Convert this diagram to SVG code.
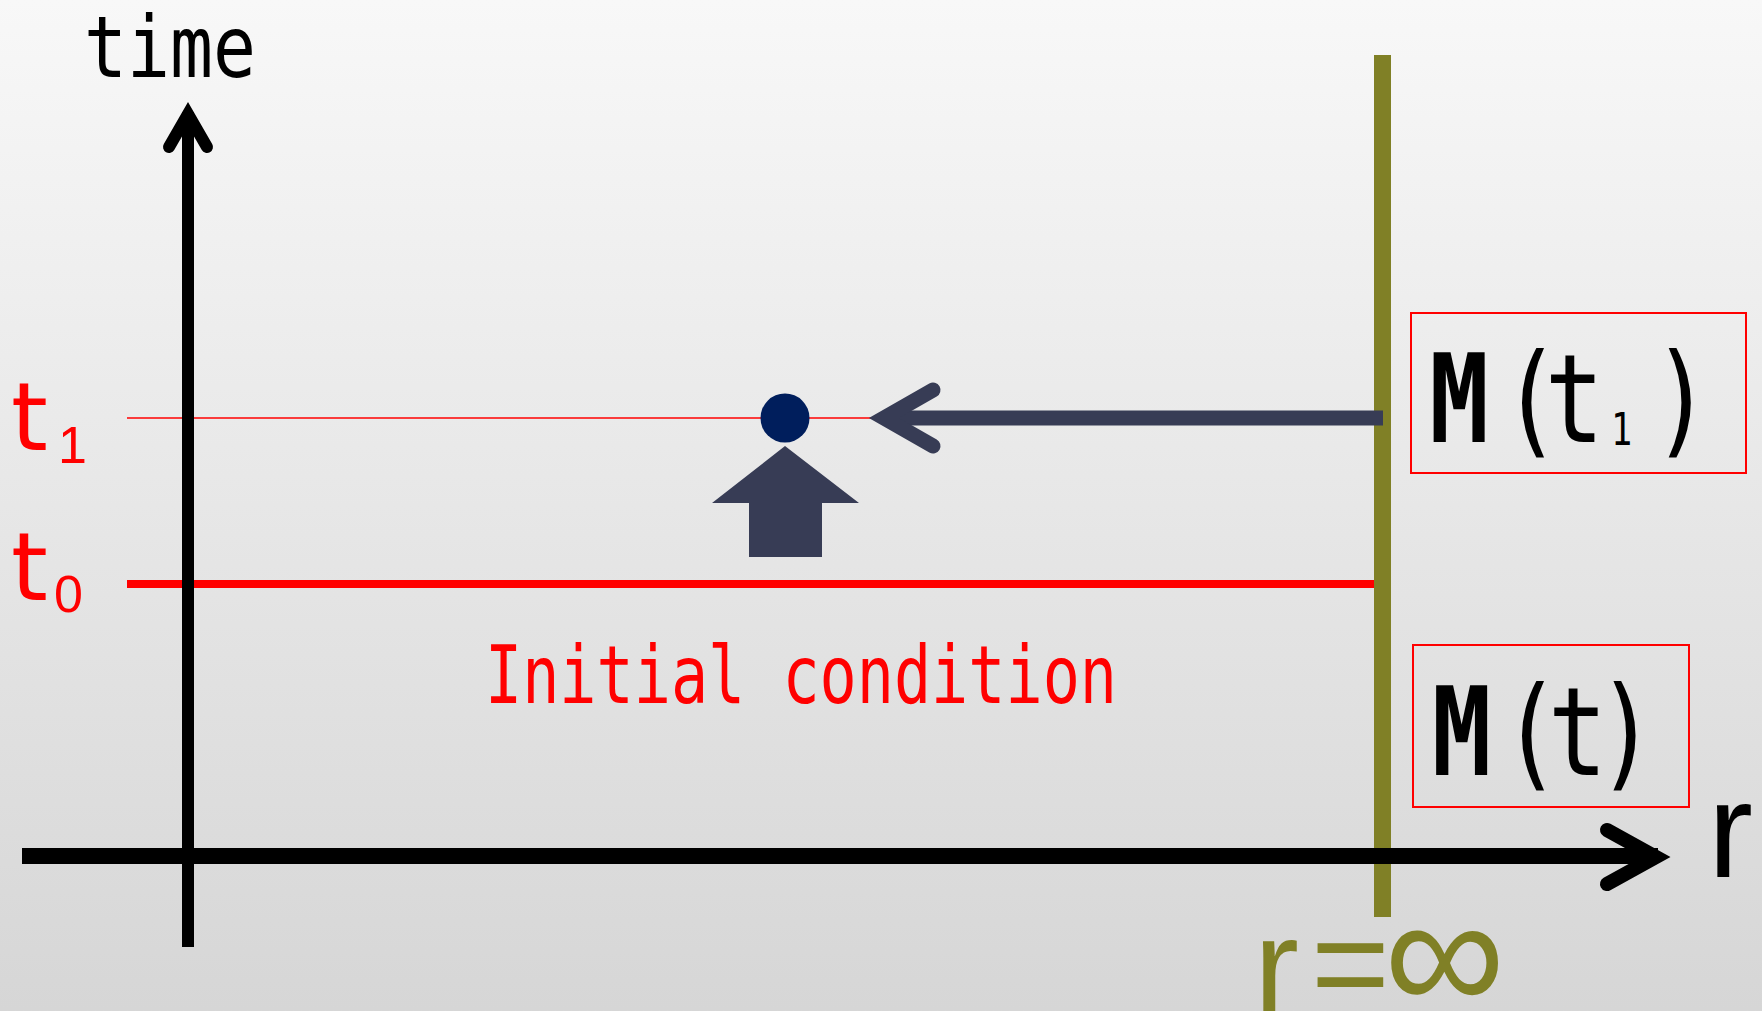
<svg xmlns="http://www.w3.org/2000/svg" width="1762" height="1011" viewBox="0 0 1762 1011">
<defs>
<linearGradient id="bg" x1="0" y1="0" x2="0" y2="1">
<stop offset="0" stop-color="#F8F8F8"/>
<stop offset="1" stop-color="#D6D6D6"/>
</linearGradient>
</defs>
<style>
.mono{font-family:"DejaVu Sans Mono","Liberation Mono",monospace}
.red{fill:#FF0000}
.blk{fill:#000000}
.olive{fill:#808026}
.box{fill:none;stroke:#FF0000;stroke-width:2}
.head{fill:none;stroke-linecap:round;stroke-linejoin:miter;stroke-miterlimit:10}
</style>
<rect x="0" y="0" width="1762" height="1011" fill="url(#bg)"/>

<g id="time-lines">
<line x1="127" y1="418" x2="872" y2="418" stroke="#FF0000" stroke-width="1.6"/>
<line x1="127" y1="584" x2="1374" y2="584" stroke="#FF0000" stroke-width="8"/>
</g>

<g id="r-infinity-line">
<rect x="1374" y="55" width="17" height="862" fill="#808026"/>
</g>

<g id="axes">
<line x1="188" y1="947" x2="188" y2="112" stroke="#000" stroke-width="12"/>
<polyline class="head" points="169,147 188,114 207,147" stroke="#000" stroke-width="12"/>
<line x1="22" y1="856" x2="1658" y2="856" stroke="#000" stroke-width="16"/>
<polyline class="head" points="1607,830 1656,857 1607,884" stroke="#000" stroke-width="14"/>
</g>

<g id="connectors">
<line x1="1383" y1="418" x2="886" y2="418" stroke="#373C55" stroke-width="15"/>
<polyline class="head" points="933,390 884,418 933,446" stroke="#373C55" stroke-width="15"/>
<polygon points="785,446 859,503 822,503 822,557 749,557 749,503 712,503" fill="#373C55"/>
</g>

<g id="dot">
<circle cx="785" cy="418" r="24.5" fill="#001E5C"/>
</g>

<g id="label-time">
<text class="mono blk" x="84" y="77" font-size="86" textLength="172" lengthAdjust="spacingAndGlyphs">time</text>
</g>

<g id="label-t1">
<text class="red" font-family="DejaVu Sans, sans-serif" font-size="94"><tspan x="11" y="450">t</tspan><tspan x="58" y="463" font-family="Liberation Sans, sans-serif" font-size="52">1</tspan></text>
</g>

<g id="label-t0">
<text class="red" font-family="DejaVu Sans, sans-serif" font-size="94"><tspan x="11" y="600">t</tspan><tspan x="54" y="612" font-family="Liberation Sans, sans-serif" font-size="52">0</tspan></text>
</g>

<g id="label-initial">
<text class="mono red" x="485" y="703" font-size="81" textLength="632" lengthAdjust="spacingAndGlyphs">Initial condition</text>
</g>

<g id="box-Mt1">
<rect class="box" x="1411" y="313" width="335" height="160"/>
<text class="mono blk" font-size="123" transform="scale(0.8 1)" text-anchor="middle"><tspan x="1824" y="442" font-weight="bold">M</tspan><tspan x="1914" y="442">(</tspan><tspan x="1968" y="442">t</tspan><tspan x="2027" y="445" font-size="44">1</tspan><tspan x="2102" y="442">)</tspan></text>
</g>

<g id="box-Mt">
<rect class="box" x="1413" y="645" width="276" height="162"/>
<text class="mono blk" font-size="123" transform="scale(0.8 1)" text-anchor="middle"><tspan x="1827" y="775" font-weight="bold">M</tspan><tspan x="1914" y="775">(</tspan><tspan x="1972" y="775">t</tspan><tspan x="2033" y="775">)</tspan></text>
</g>

<g id="label-r">
<text class="blk" x="1708" y="877" font-family="Liberation Sans, sans-serif" font-size="135">r</text>
</g>

<g id="label-r-inf">
<text class="olive" font-family="Liberation Sans, sans-serif" font-size="135"><tspan x="1254" y="1013">r</tspan><tspan x="1311" y="1010">=</tspan><tspan x="1384" y="1012" font-size="170">∞</tspan></text>
</g>
</svg>
